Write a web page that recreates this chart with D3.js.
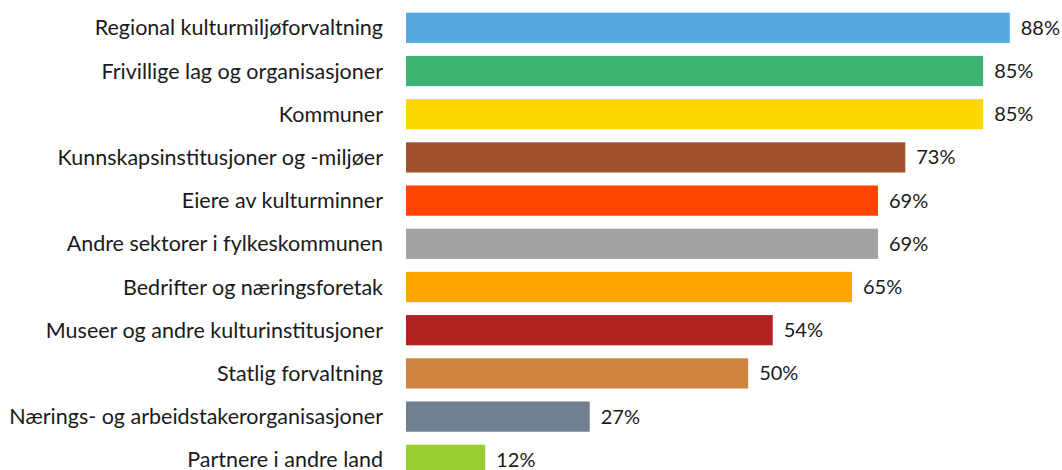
<!DOCTYPE html>
<html lang="no">
<head>
    <meta charset="utf-8">
    <script src="https://cdn.jsdelivr.net/npm/d3@7"></script>
    <style>
        body { margin: 0; background: #fff; }
        text { font-family: Lato, "Noto Sans", sans-serif; fill: #1a1a1a; }
    </style>
</head>
<body>
<script>
    const categories = [
        'Regional kulturmiljøforvaltning',
        'Frivillige lag og organisasjoner',
        'Kommuner',
        'Kunnskapsinstitusjoner og -miljøer',
        'Eiere av kulturminner',
        'Andre sektorer i fylkeskommunen',
        'Bedrifter og næringsforetak',
        'Museer og andre kulturinstitusjoner',
        'Statlig forvaltning',
        'Nærings- og arbeidstakerorganisasjoner',
        'Partnere i andre land'
    ];
    const values = [0.884, 0.845, 0.845, 0.731, 0.691, 0.691, 0.653, 0.537, 0.501, 0.269, 0.116];
    const colors = ['#55a9df', '#3cb371', '#ffd700', '#a0522d', '#ff4500', '#a3a3a3',
        '#ffa500', '#b22222', '#cd853f', '#708090', '#9acd32'];

    const width = 1062, height = 470;
    const svg = d3.select('body').append('svg')
        .attr('width', width).attr('height', height);

    let x = d3.scaleLinear().domain([0, 1]).range([406, 406 + 683]);
    let y = d3.scaleBand().domain(categories)
        .range([6.2, 6.2 + 11 * 43.2])
        .paddingInner(0.3).paddingOuter(0.15);

    svg.append('g').selectAll('rect')
        .data(categories)
        .enter().append('rect')
        .attr('x', x(0))
        .attr('y', d => y(d))
        .attr('width', (d, i) => x(values[i]) - x(0))
        .attr('height', y.bandwidth())
        .attr('fill', (d, i) => colors[i]);

    // category names, right aligned next to the bars
    svg.append('g').selectAll('text')
        .data(categories)
        .enter().append('text')
        .attr('x', x(0) - 23)
        .attr('y', d => y(d) + y.bandwidth() / 2)
        .attr('dy', '0.35em')
        .attr('text-anchor', 'end')
        .style('font-size', '21.5px')
        .text(d => d);

    svg.append('g').selectAll('text')
        .data(categories)
        .enter().append('text')
        .attr('x', (d, i) => x(values[i]) + 11)
        .attr('y', d => y(d) + y.bandwidth() / 2)
        .attr('dy', '0.35em')
        .style('font-size', '20px')
        .text((d, i) => d3.format('.0%')(values[i]));
</script>
</body>
</html>
